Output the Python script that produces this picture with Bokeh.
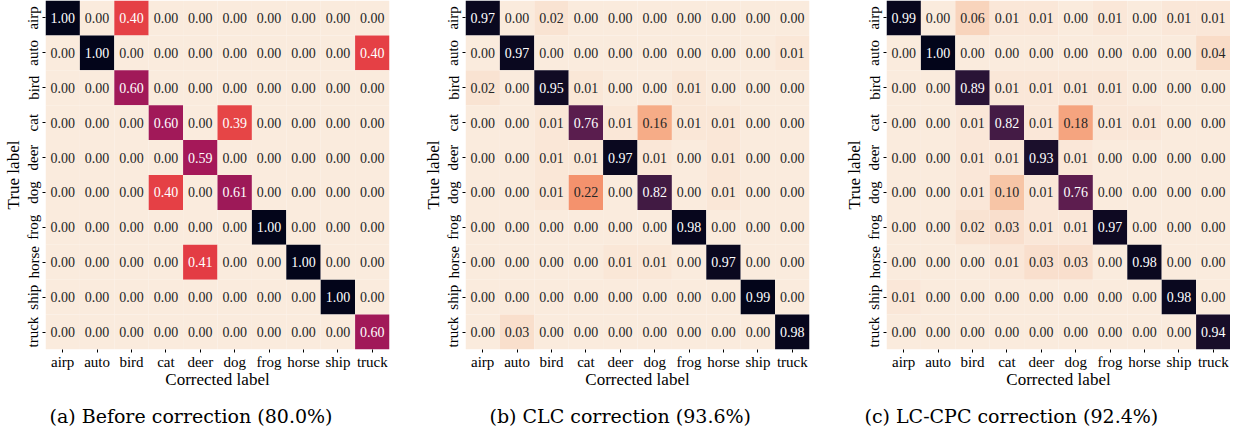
from bokeh.plotting import figure
from bokeh.layouts import row
from bokeh.models import ColumnDataSource, FactorRange
from bokeh.core.properties import value
from bokeh.embed import file_html
from bokeh.resources import INLINE

classes = ["airp", "auto", "bird", "cat", "deer", "dog", "frog", "horse", "ship", "truck"]

before_vals = [
    [1.00, 0.00, 0.40, 0.00, 0.00, 0.00, 0.00, 0.00, 0.00, 0.00],
    [0.00, 1.00, 0.00, 0.00, 0.00, 0.00, 0.00, 0.00, 0.00, 0.40],
    [0.00, 0.00, 0.60, 0.00, 0.00, 0.00, 0.00, 0.00, 0.00, 0.00],
    [0.00, 0.00, 0.00, 0.60, 0.00, 0.39, 0.00, 0.00, 0.00, 0.00],
    [0.00, 0.00, 0.00, 0.00, 0.59, 0.00, 0.00, 0.00, 0.00, 0.00],
    [0.00, 0.00, 0.00, 0.40, 0.00, 0.61, 0.00, 0.00, 0.00, 0.00],
    [0.00, 0.00, 0.00, 0.00, 0.00, 0.00, 1.00, 0.00, 0.00, 0.00],
    [0.00, 0.00, 0.00, 0.00, 0.41, 0.00, 0.00, 1.00, 0.00, 0.00],
    [0.00, 0.00, 0.00, 0.00, 0.00, 0.00, 0.00, 0.00, 1.00, 0.00],
    [0.00, 0.00, 0.00, 0.00, 0.00, 0.00, 0.00, 0.00, 0.00, 0.60],
]

clc_vals = [
    [0.97, 0.00, 0.02, 0.00, 0.00, 0.00, 0.00, 0.00, 0.00, 0.00],
    [0.00, 0.97, 0.00, 0.00, 0.00, 0.00, 0.00, 0.00, 0.00, 0.01],
    [0.02, 0.00, 0.95, 0.01, 0.00, 0.00, 0.01, 0.00, 0.00, 0.00],
    [0.00, 0.00, 0.01, 0.76, 0.01, 0.16, 0.01, 0.01, 0.00, 0.00],
    [0.00, 0.00, 0.01, 0.01, 0.97, 0.01, 0.00, 0.01, 0.00, 0.00],
    [0.00, 0.00, 0.01, 0.22, 0.00, 0.82, 0.00, 0.01, 0.00, 0.00],
    [0.00, 0.00, 0.00, 0.00, 0.00, 0.00, 0.98, 0.00, 0.00, 0.00],
    [0.00, 0.00, 0.00, 0.00, 0.01, 0.01, 0.00, 0.97, 0.00, 0.00],
    [0.00, 0.00, 0.00, 0.00, 0.00, 0.00, 0.00, 0.00, 0.99, 0.00],
    [0.00, 0.03, 0.00, 0.00, 0.00, 0.00, 0.00, 0.00, 0.00, 0.98],
]

lccpc_vals = [
    [0.99, 0.00, 0.06, 0.01, 0.01, 0.00, 0.01, 0.00, 0.01, 0.01],
    [0.00, 1.00, 0.00, 0.00, 0.00, 0.00, 0.00, 0.00, 0.00, 0.04],
    [0.00, 0.00, 0.89, 0.01, 0.01, 0.01, 0.01, 0.00, 0.00, 0.00],
    [0.00, 0.00, 0.01, 0.82, 0.01, 0.18, 0.01, 0.01, 0.00, 0.00],
    [0.00, 0.00, 0.01, 0.01, 0.93, 0.01, 0.00, 0.00, 0.00, 0.00],
    [0.00, 0.00, 0.01, 0.10, 0.01, 0.76, 0.00, 0.00, 0.00, 0.00],
    [0.00, 0.00, 0.02, 0.03, 0.01, 0.01, 0.97, 0.00, 0.00, 0.00],
    [0.00, 0.00, 0.00, 0.01, 0.03, 0.03, 0.00, 0.98, 0.00, 0.00],
    [0.01, 0.00, 0.00, 0.00, 0.00, 0.00, 0.00, 0.00, 0.98, 0.00],
    [0.00, 0.00, 0.00, 0.00, 0.00, 0.00, 0.00, 0.00, 0.00, 0.94],
]

captions = ["(a) Before correction (80.0%)", "(b) CLC correction (93.6%)", "(c) LC-CPC correction (92.4%)"]

# seaborn "rocket" colormap anchors (dark -> light)
rocket_pos = [0.0, 1/7, 2/7, 3/7, 4/7, 5/7, 6/7, 1.0]
rocket_hex = ["#03051a", "#35193e", "#701f57", "#ad1759", "#e13342", "#f37651", "#f6b48f", "#faebdd"]


def hex2rgb(h):
    return tuple(int(h[i:i + 2], 16) for i in (1, 3, 5))


def rocket_r(v):
    t = 1.0 - min(max(v, 0.0), 1.0)
    for i in range(len(rocket_pos) - 1):
        a, b = rocket_pos[i], rocket_pos[i + 1]
        if t <= b or i == len(rocket_pos) - 2:
            f = (t - a) / (b - a)
            c0, c1 = hex2rgb(rocket_hex[i]), hex2rgb(rocket_hex[i + 1])
            return tuple(round(c0[k] + f * (c1[k] - c0[k])) for k in range(3))


def lum(rgb):
    out = []
    for c in rgb:
        c = c / 255
        out.append(c / 12.92 if c <= 0.03928 else ((c + 0.055) / 1.055) ** 2.4)
    return 0.2126 * out[0] + 0.7152 * out[1] + 0.0722 * out[2]


SERIF = "Liberation Serif"


def make_panel(vals, caption, width, left, right, cap_offset):
    vmax = max(max(r) for r in vals)
    xs, ys, fills, tcols, labels = [], [], [], [], []
    for i, rname in enumerate(classes):
        for j, cname in enumerate(classes):
            v = vals[i][j]
            rgb = rocket_r(v / vmax)
            xs.append(cname)
            ys.append(rname)
            fills.append("#%02x%02x%02x" % rgb)
            tcols.append("#262626" if lum(rgb) > 0.3 else "#ffffff")
            labels.append("%.2f" % v)
    src = ColumnDataSource(dict(x=xs, y=ys, fill=fills, tcol=tcols, label=labels))

    p = figure(width=width, height=437, x_range=FactorRange(*classes),
               y_range=FactorRange(*classes[::-1]), output_backend="svg",
               toolbar_location=None, title=caption, title_location="below",
               min_border_left=left, min_border_right=right, min_border_top=0,
               min_border_bottom=0)
    p.rect(x="x", y="y", width=1, height=1, source=src, fill_color="fill",
           line_color=None)
    p.text(x="x", y="y", text="label", source=src, text_color="tcol",
           text_align="center", text_baseline="middle", text_font=value(SERIF),
           text_font_size="14px")

    p.outline_line_color = None
    p.grid.visible = False
    p.background_fill_color = "white"
    p.border_fill_color = "white"
    for ax in (p.xaxis[0], p.yaxis[0]):
        ax.axis_line_color = None
        ax.major_tick_in = 0
        ax.major_tick_out = 3
        ax.major_tick_line_color = "black"
        ax.major_label_text_font = SERIF
        ax.major_label_text_font_size = "15px"
        ax.major_label_text_color = "black"
        ax.major_label_standoff = 1
        ax.axis_label_text_font = SERIF
        ax.axis_label_text_font_size = "17px"
        ax.axis_label_text_font_style = "normal"
        ax.axis_label_text_color = "black"
        ax.axis_label_standoff = 0
    p.xaxis.axis_label_standoff = -3
    p.xaxis.axis_label = "Corrected label"
    p.yaxis.axis_label = "True label"
    p.yaxis.major_label_orientation = "vertical"

    p.title.align = "left"
    p.title.offset = cap_offset
    p.title.text_font = "DejaVu Serif"
    p.title.text_font_size = "19px"
    p.title.text_font_style = "normal"
    p.title.text_color = "black"
    p.title.standoff = 22
    return p


pa = make_panel(before_vals, captions[0], 420, 38, 31, 4)
pb = make_panel(clc_vals, captions[1], 421, 38, 32, 24)
pc = make_panel(lccpc_vals, captions[2], 389, 38, 0, -22)

layout = row(pa, pb, pc)
open("out.html", "w").write(file_html(layout, INLINE))
